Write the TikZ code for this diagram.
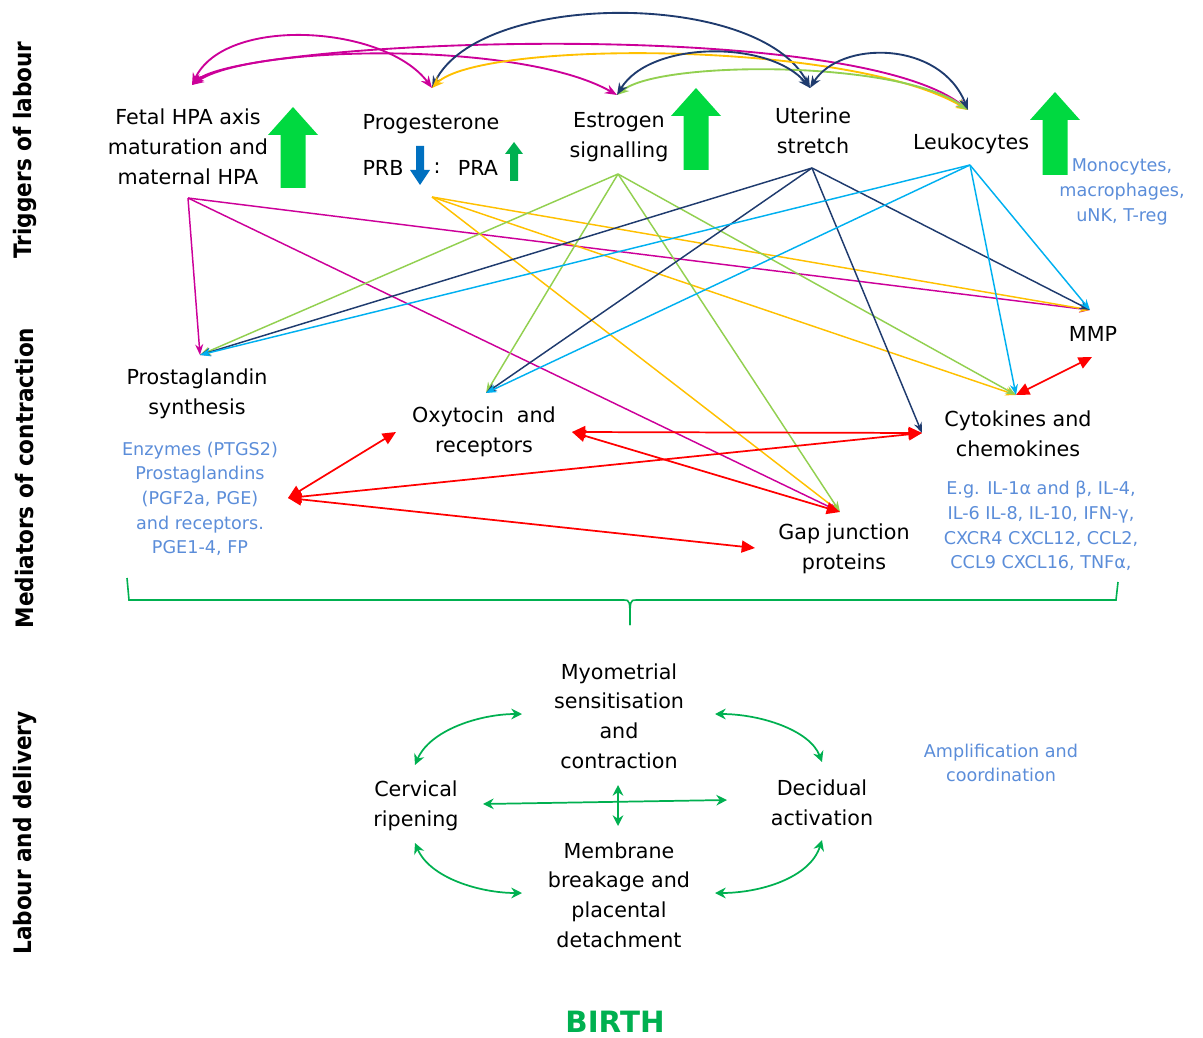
\documentclass[tikz,border=0pt]{standalone}
\usepackage{fontspec}
\setmainfont{DejaVu Sans}
\newfontfamily\condfont{DejaVu Sans Condensed}
\usetikzlibrary{arrows.meta, positioning, calc}
\definecolor{hpapink}{HTML}{CC0099}
\definecolor{stretchnavy}{HTML}{1F3B6E}
\definecolor{progorange}{HTML}{FFC000}
\definecolor{estrolime}{HTML}{92D050}
\definecolor{leukocyan}{HTML}{00B0F0}
\definecolor{mediatorred}{HTML}{FF0000}
\definecolor{labourgreen}{HTML}{00B050}
\definecolor{bigarrow}{HTML}{00D940}
\definecolor{noteblue}{HTML}{5B8DD9}
\definecolor{prbblue}{HTML}{0070C0}
\newcommand\mainfs{\fontsize{15.5}{22.3}\selectfont}
\newcommand\notefs{\fontsize{13.2}{18.5}\selectfont}
\newcommand\sidefs{\condfont\bfseries\fontsize{18}{18}\selectfont}

\begin{document}
\begin{tikzpicture}[
    x=0.75pt, y=-0.75pt,
    every node/.style={font=\mainfs, align=center, inner sep=0pt},
    note/.style={font=\notefs, text=noteblue},
    side/.style={font=\sidefs, rotate=90},
    arc/.style={{Stealth[length=9pt,width=7pt]}-{Stealth[length=9pt,width=7pt]}, line width=1.4pt},
    link/.style={-{Stealth[length=8pt,width=6pt]}, line width=1.1pt},
    redlink/.style={{Triangle[length=10pt,width=9pt]}-{Triangle[length=10pt,width=9pt]}, line width=1.3pt, draw=mediatorred},
    cyclink/.style={{Stealth[length=8pt,width=8pt]}-{Stealth[length=8pt,width=8pt]}, line width=1.3pt, draw=labourgreen},
    bigup/.style={fill=bigarrow}
]
\useasboundingbox (0,0) rectangle (1203,1038);

% Side labels
\node[side] (trig) at (25,150) {Triggers of labour};
\node[side] (medi) at (25,478) {Mediators of contraction};
\node[side] (deliv) at (25,833) {Labour and delivery};

% Triggers
\node (fetal) at (188,147) {Fetal HPA axis\\maturation and\\maternal HPA};
\node (prog) at (431,124) {Progesterone};
\node (prb) at (383,168) {PRB};
\node (colon) at (437,168) {:};
\node (pra) at (478,168) {PRA};
\node (estro) at (619,137) {Estrogen\\signalling};
\node (uter) at (813,131) {Uterine\\stretch};
\node (leuk) at (971,144) {Leukocytes};
\node[note] (mono) at (1122,192) {Monocytes,\\macrophages,\\uNK, T-reg};

% Mediators
\node (prosta) at (197,394) {Prostaglandin\\synthesis};
\node[note] (enzy) at (200,499) {Enzymes (PTGS2)\\Prostaglandins\\(PGF2a, PGE)\\and receptors.\\PGE1-4, FP};
\node (oxy) at (484,432) {Oxytocin~ and\\receptors};
\node (mmp) at (1093,334) {MMP};
\node (cyto) at (1018,434) {Cytokines and\\chemokines};
\node[note] (eg) at (1041,526) {E.g. IL-1α and β, IL-4,\\IL-6 IL-8, IL-10, IFN-γ,\\CXCR4 CXCL12, CCL2,\\CCL9 CXCL16, TNFα,};
\node (gap) at (844,549) {Gap junction\\proteins};

% Labour and delivery
\node (myo) at (619,716) {Myometrial\\sensitisation\\and\\contraction};
\node (cerv) at (416,806) {Cervical\\ripening};
\node (decid) at (822,803) {Decidual\\activation};
\node (memb) at (619,895) {Membrane\\breakage and\\placental\\detachment};
\node[note] (ampl) at (1001,763) {Amplification and\\coordination};
\node[font=\bfseries\fontsize{22}{24}\selectfont, text=labourgreen] (birth) at (615,1022) {BIRTH};

% Connection points
\coordinate (fetal-t) at (192,85);
\coordinate (fetal-b) at (188,198);
\coordinate (prog-t) at (432,88);
\coordinate (prog-b) at (432,197);
\coordinate (estro-t) at (617,95);
\coordinate (estro-b) at (618,174);
\coordinate (uter-t) at (810,88);
\coordinate (uter-b) at (812,168);
\coordinate (leuk-t) at (968,110);
\coordinate (leuk-b) at (970,165);
\coordinate (prosta-t) at (200,355);
\coordinate (prosta-r) at (288,498);
\coordinate (oxy-t) at (486,393);
\coordinate (oxy-l) at (396,432);
\coordinate (oxy-r) at (572,432);
\coordinate (mmp-t) at (1090,310);
\coordinate (mmp-b) at (1092,357);
\coordinate (cyto-t) at (1016,395);
\coordinate (cyto-l) at (922,433);
\coordinate (gap-t) at (840,512);
\coordinate (gap-l) at (755,548);

% Big up arrows
\foreach \ax/\ay/\ab in {293/107/188, 696/88/170, 1055/92/175} {
    \fill[bigup] (\ax,\ay) -- (\ax+25,\ay+28) -- (\ax+12.5,\ay+28) -- (\ax+12.5,\ab)
        -- (\ax-12.5,\ab) -- (\ax-12.5,\ay+28) -- (\ax-25,\ay+28) -- cycle;
}
\fill[prbblue] (416,146) -- (424,146) -- (424,170) -- (430,170) -- (420,185)
    -- (410,170) -- (416,170) -- cycle;
\fill[labourgreen] (514,142) -- (523,154) -- (518,154) -- (518,181) -- (510,181)
    -- (510,154) -- (505,154) -- cycle;

% Arcs between triggers
\draw[arc, hpapink] (fetal-t) .. controls (225,15) and (385,25) .. (prog-t);
\draw[arc, hpapink] (fetal-t) .. controls (250,45) and (520,40) .. (estro-t);
\draw[arc, hpapink] (fetal-t) .. controls (240,40) and (850,15) .. (leuk-t);
\draw[arc, stretchnavy] (uter-t) .. controls (760,-10) and (480,-10) .. (prog-t);
\draw[arc, progorange] (prog-t) .. controls (480,40) and (850,40) .. (leuk-t);
\draw[arc, estrolime] (estro-t) .. controls (660,60) and (900,60) .. (leuk-t);
\draw[arc, stretchnavy] (estro-t) .. controls (650,40) and (770,40) .. (uter-t);
\draw[arc, stretchnavy] (uter-t) .. controls (840,40) and (940,40) .. (leuk-t);

% Triggers to mediators
\foreach \t in {prosta-t, gap-t, mmp-t} {
    \draw[link, hpapink] (fetal-b) -- (\t);
}
\foreach \t in {mmp-t, cyto-t, gap-t} {
    \draw[link, progorange] (prog-b) -- (\t);
}
\foreach \t in {prosta-t, oxy-t, gap-t, cyto-t} {
    \draw[link, estrolime] (estro-b) -- (\t);
}
\foreach \t in {prosta-t, oxy-t, cyto-l, mmp-t} {
    \draw[link, stretchnavy] (uter-b) -- (\t);
}
\foreach \t in {prosta-t, oxy-t, cyto-t, mmp-t} {
    \draw[link, leukocyan] (leuk-b) -- (\t);
}

% Mediator interactions
\draw[redlink] (prosta-r) -- (oxy-l);
\draw[redlink] (prosta-r) -- (cyto-l);
\draw[redlink] (prosta-r) -- (gap-l);
\draw[redlink] (oxy-r) -- (cyto-l);
\draw[redlink] (oxy-r) -- (gap-t);
\draw[redlink] (cyto-t) -- (mmp-b);

% Brace
\draw[labourgreen, line width=1.2pt] (127,578) -- (129,600) -- (624,600) .. controls (630,600) .. (630,625);
\draw[labourgreen, line width=1.2pt] (630,625) .. controls (630,600) .. (636,600) -- (1116,600) -- (1118,582);

% Labour and delivery cycle
\coordinate (cerv-t) at (415,765);
\coordinate (cerv-b) at (415,843);
\coordinate (cerv-r) at (483,804);
\coordinate (decid-t) at (822,762);
\coordinate (decid-b) at (822,840);
\coordinate (decid-l) at (727,800);
\coordinate (myo-l) at (522,714);
\coordinate (myo-r) at (715,714);
\coordinate (myo-b) at (618,785);
\coordinate (memb-l) at (522,893);
\coordinate (memb-r) at (715,893);
\coordinate (memb-t) at (618,826);
\draw[cyclink] (cerv-t) .. controls (430,730) and (480,714) .. (myo-l);
\draw[cyclink] (myo-r) .. controls (760,714) and (810,730) .. (decid-t);
\draw[cyclink] (cerv-b) .. controls (430,878) and (480,893) .. (memb-l);
\draw[cyclink] (memb-r) .. controls (760,893) and (810,878) .. (decid-b);
\draw[cyclink] (cerv-r) -- (decid-l);
\draw[cyclink] (myo-b) -- (memb-t);

\end{tikzpicture}
\end{document}
